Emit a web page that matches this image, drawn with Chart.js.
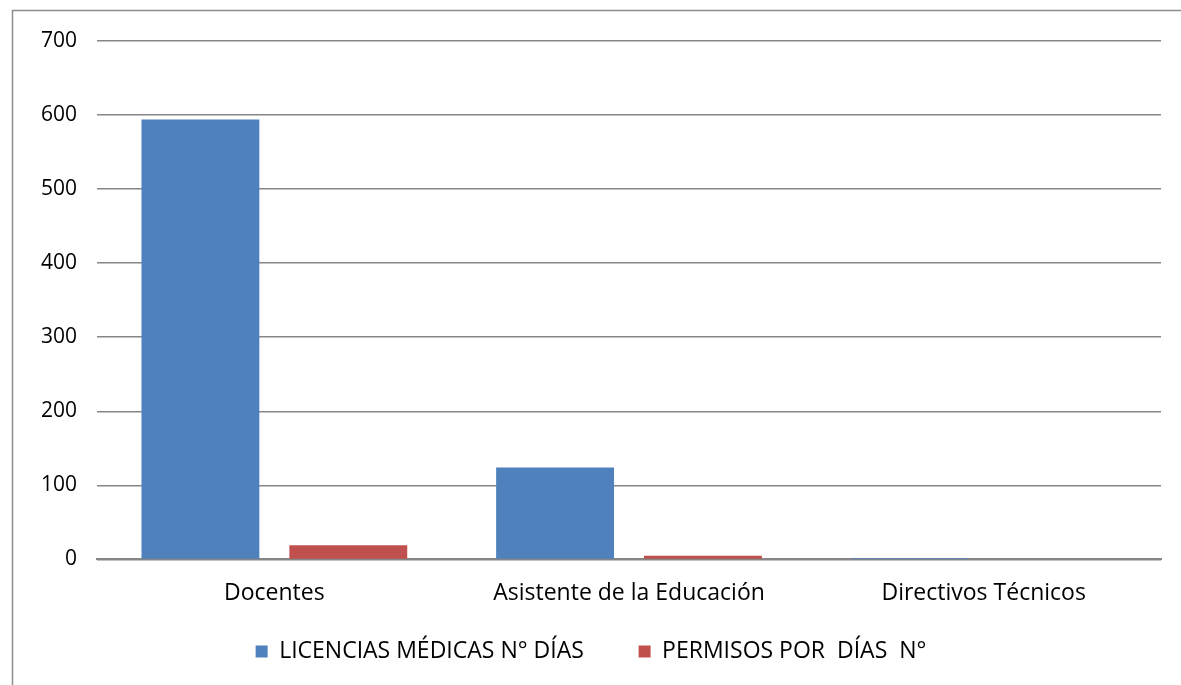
<!DOCTYPE html>
<html>
<head>
<meta charset="utf-8">
<script src="https://cdn.jsdelivr.net/npm/chart.js@4/dist/chart.umd.min.js"></script>
<style>
    html, body { margin: 0; padding: 0; background: #fff; }
    #wrap { width: 1181px; height: 685px; position: relative; }
</style>
</head>
<body>
<div id="wrap"><canvas id="absenceChart" width="1181" height="685"></canvas></div>
<script>
const categories = ['Docentes', 'Asistente de la Educación', 'Directivos Técnicos'];
const licenciasDias = [594, 124, 2];
const permisosDias = [19, 5, 0];
const seriesNames = ['LICENCIAS MÉDICAS N° DÍAS', 'PERMISOS POR  DÍAS  N°'];
const yTicks = [0, 100, 200, 300, 400, 500, 600, 700];

const fontFamily = '"Open Sans", "DejaVu Sans", sans-serif';

// thin grey frame like the exported image (left and top edges only)
const framePlugin = {
    id: 'frame',
    afterDraw(chart) {
        const ctx = chart.ctx;
        ctx.save();
        ctx.strokeStyle = '#8c8c8c';
        ctx.lineWidth = 1.5;
        ctx.beginPath();
        ctx.moveTo(12.5, 685);
        ctx.lineTo(12.5, 10.5);
        ctx.lineTo(1181, 10.5);
        ctx.stroke();
        ctx.restore();
    }
};

document.addEventListener('DOMContentLoaded', function() {
    const ctx = document.getElementById('absenceChart').getContext('2d');

    new Chart(ctx, {
        type: 'bar',
        data: {
            labels: categories,
            datasets: [{
                label: seriesNames[0],
                data: licenciasDias,
                backgroundColor: '#4F81BD',
                borderWidth: 0,
                categoryPercentage: 0.834,
                barPercentage: 0.797
            }, {
                label: seriesNames[1],
                data: permisosDias,
                backgroundColor: '#C0504D',
                borderWidth: 0,
                categoryPercentage: 0.834,
                barPercentage: 0.797
            }]
        },
        plugins: [framePlugin],
        options: {
            responsive: false,
            animation: false,
            layout: {
                padding: { left: 21, right: 20, top: 41, bottom: 12 }
            },
            plugins: {
                tooltip: { enabled: false },
                legend: {
                    position: 'bottom',
                    labels: {
                        color: '#000',
                        font: { family: fontFamily, size: 23 },
                        boxWidth: 12,
                        boxHeight: 12,
                        padding: 13,
                        generateLabels(chart) {
                            const items = Chart.defaults.plugins.legend.labels.generateLabels(chart);
                            items.forEach((item, i) => {
                                item.lineWidth = 0;
                                if (i < items.length - 1) item.text = item.text + '\u00a0'.repeat(7);
                            });
                            return items;
                        }
                    }
                }
            },
            scales: {
                x: {
                    grid: { display: false, drawTicks: false },
                    border: { display: true, color: '#868686', width: 2 },
                    ticks: {
                        color: '#000',
                        font: { family: fontFamily, size: 23 },
                        padding: 20,
                        maxRotation: 0
                    }
                },
                y: {
                    min: 0,
                    max: 700,
                    afterBuildTicks(axis) {
                        axis.ticks = yTicks.map(v => ({ value: v }));
                    },
                    grid: { color: '#868686', lineWidth: 1.5, drawTicks: false },
                    border: { display: false },
                    ticks: {
                        color: '#000',
                        font: { family: fontFamily, size: 21 },
                        padding: 20
                    }
                }
            }
        }
    });
});
</script>
</body>
</html>
